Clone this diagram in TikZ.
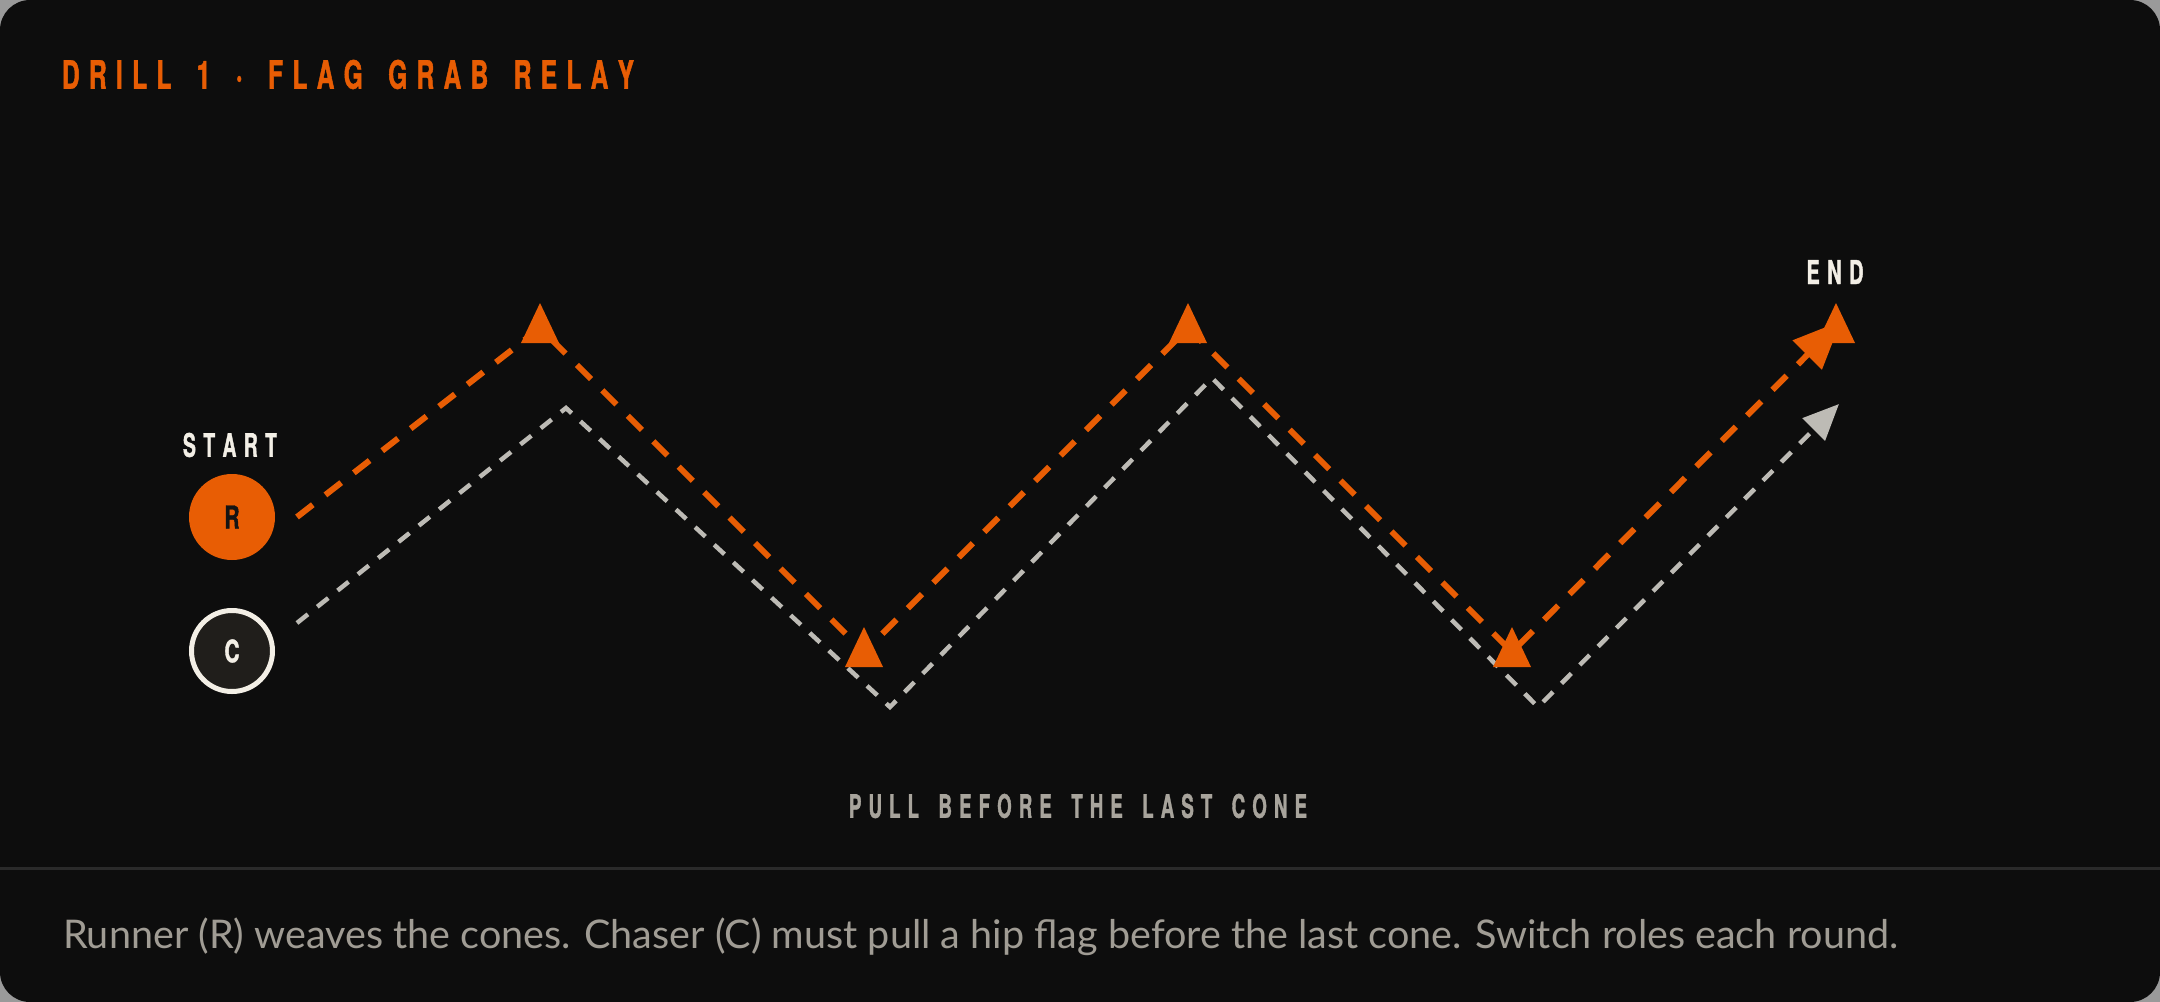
\documentclass[tikz,border=0pt]{standalone}
\usepackage{fontspec}
\usepackage{graphicx}
\usetikzlibrary{arrows.meta,calc}
\setmainfont{Lato}
\newfontfamily\condfont[FakeStretch=0.58,FakeBold=1.1]{TeX Gyre Heros}
\definecolor{orng}{HTML}{E85D04}
\definecolor{cardbg}{HTML}{0D0D0D}
\definecolor{outerbg}{HTML}{9A9A9A}
\definecolor{chgrey}{HTML}{BDBBB5}
\definecolor{cream}{HTML}{F3EFE6}
\definecolor{cfill}{HTML}{201E1B}
\definecolor{divc}{HTML}{2A2A2A}
\definecolor{footc}{HTML}{A09C94}
\definecolor{pullc}{HTML}{A8A49C}
\definecolor{rtext}{HTML}{141414}
\newcommand\lsp[2]{\def\lspk{#1}\lsploop#2\relax\unkern}
\def\lsploop#1{\ifx#1\relax\else#1\kern\lspk\expandafter\lsploop\fi}
\newcommand\capsfit[3]{\resizebox{#1}{#2}{\condfont\bfseries\lsp{0.22em}{#3}}}
\tikzset{
  lbl/.style={inner sep=0pt, outer sep=0pt},
  runner/.style={draw=orng, line width=3pt, dash pattern=on 10pt off 8pt},
  chaser/.style={draw=chgrey, line width=2.25pt, dash pattern=on 7pt off 6pt},
  conefill/.style={fill=orng},
  rdot/.style={circle, fill=orng, minimum size=43pt, inner sep=0pt, text=rtext},
  cdot/.style={circle, fill=cfill, draw=cream, line width=2.5pt, minimum size=40.5pt, inner sep=0pt, text=cream},
}
\begin{document}
\begin{tikzpicture}[x=0.5pt,y=-0.5pt]
\useasboundingbox (0,0) rectangle (2160,1002);
\fill[outerbg] (0,0) rectangle (2160,1002);
\fill[cardbg, rounded corners=15pt] (0,0) rectangle (2160,1002);
\draw[divc, line width=1.5pt] (0,868) -- (2160,868);

% title
\node[lbl, anchor=west, text=orng] (title) at (62,74.5) {\capsfit{286pt}{14.5pt}{DRILL~1~·~FLAG~GRAB~RELAY}};

% players
\node[rdot] (R) at (232,517) {\resizebox{7.5pt}{11.5pt}{\condfont\bfseries R}};
\node[cdot] (C) at (232,651) {\resizebox{7.5pt}{11.5pt}{\condfont\bfseries C}};
\node[lbl, text=cream] (start) at (230,445) {\capsfit{47pt}{12pt}{START}};
\node[lbl, text=cream] (endlbl) at (1835,272) {\capsfit{28.5pt}{12pt}{END}};

% cones
\foreach \n/\x/\y in {c1/540/323, c2/864/647, c3/1188/323, c4/1512/647, c5/1836/323}
  \coordinate (\n) at (\x,\y);

% runner path
\coordinate (o0) at (297,517);
\coordinate (o1) at (540,328);
\coordinate (o2) at (864,652);
\coordinate (o3) at (1188,328);
\coordinate (o4) at (1512,652);
\coordinate (o5) at (1841,321);
% chaser path
\coordinate (g0) at (297,623);
\coordinate (g1) at (566,408);
\coordinate (g2) at (890,707);
\coordinate (g3) at (1212,378);
\coordinate (g4) at (1538,707);
\coordinate (g5) at (1839,404);

\draw[chaser, -{Triangle[length=18pt,width=15.5pt]}] (g0) -- (g1) -- (g2) -- (g3) -- (g4) -- (g5);
\draw[runner, -{Triangle[length=24pt,width=20pt]}] (o0) -- (o1) -- (o2) -- (o3) -- (o4) -- (o5);

\foreach \n in {c1,c2,c3,c4,c5}
  \fill[conefill] ($(\n)+(0,-20)$) -- ($(\n)+(19,20)$) -- ($(\n)+(-19,20)$) -- cycle;

\node[lbl, text=pullc] (pull) at (1078,806) {\capsfit{229pt}{12pt}{PULL~BEFORE~THE~LAST~CONE}};

\node[lbl, anchor=base west, text=footc] (foot) at (63,948) {\resizebox{917.5pt}{!}{Runner (R) weaves the cones. Chaser (C) must pull a hip flag before the last cone. Switch roles each round.}};
\end{tikzpicture}
\end{document}
